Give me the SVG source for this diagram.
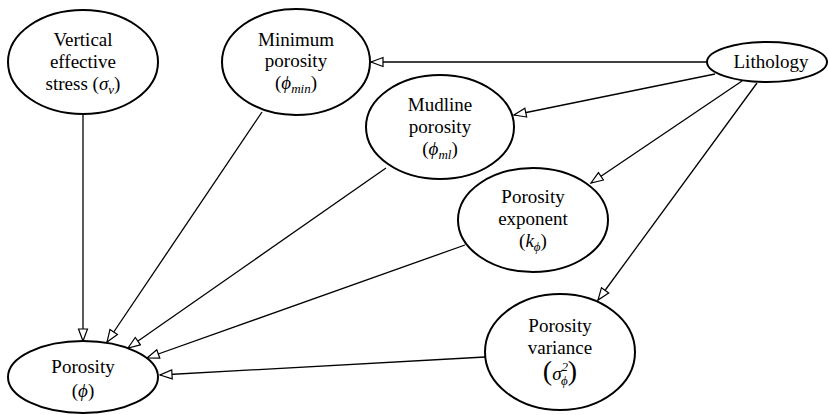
<svg xmlns="http://www.w3.org/2000/svg" width="828" height="415" viewBox="0 0 828 415">
<style>
.node ellipse{fill:#fff;stroke:#000;stroke-width:2}
.node text{font-family:'Liberation Serif','Times New Roman','DejaVu Serif','Noto Serif',serif;font-size:19px;fill:#000;text-anchor:middle}
.m{font-style:italic}
.sub{font-size:13px;font-style:italic}
#edges line{stroke:#000;stroke-width:1.3;fill:none;marker-end:url(#arr)}
</style>
<defs>
<marker id="arr" markerUnits="userSpaceOnUse" markerWidth="15" markerHeight="12" refX="13" refY="5.5" orient="auto">
<path d="M1,1 L13,5.5 L1,10 Z" fill="#fff" stroke="#000" stroke-width="1.2"/>
</marker>
</defs>
<rect width="828" height="415" fill="#fff"/>
<g id="edges">
<line x1="83" y1="115" x2="83" y2="341"/>
<line x1="262" y1="112" x2="107" y2="342"/>
<line x1="386" y1="168" x2="128" y2="348"/>
<line x1="465" y1="245" x2="147" y2="358"/>
<line x1="485" y1="357" x2="160" y2="375"/>
<line x1="707" y1="62" x2="371" y2="62"/>
<line x1="715" y1="74" x2="514" y2="115"/>
<line x1="742" y1="81" x2="591" y2="183"/>
<line x1="757" y1="83" x2="598" y2="300"/>
</g>
<g id="n_stress" class="node">
<ellipse cx="83" cy="62" rx="75" ry="52"/>
<text x="83" y="46" font-family="Liberation Serif, serif">Vertical</text>
<text x="83" y="68" font-family="Liberation Serif, serif">effective</text>
<text x="83" y="90" font-family="Liberation Serif, serif">stress (<tspan class="m">σ</tspan><tspan class="sub" dy="4">v</tspan><tspan dy="-4">)</tspan></text>
</g>
<g id="n_minpor" class="node">
<ellipse cx="296" cy="62" rx="74" ry="53"/>
<text x="296" y="46">Minimum</text>
<text x="296" y="67">porosity</text>
<text x="296" y="89">(<tspan class="m">ϕ</tspan><tspan class="sub" dy="4">min</tspan><tspan dy="-4">)</tspan></text>
</g>
<g id="n_lith" class="node">
<ellipse cx="767" cy="62" rx="60" ry="20"/>
<text x="771" y="68">Lithology</text>
</g>
<g id="n_mudline" class="node">
<ellipse cx="440" cy="127" rx="74" ry="52"/>
<text x="440" y="111">Mudline</text>
<text x="440" y="133">porosity</text>
<text x="440" y="155">(<tspan class="m">ϕ</tspan><tspan class="sub" dy="4">ml</tspan><tspan dy="-4">)</tspan></text>
</g>
<g id="n_exp" class="node">
<ellipse cx="533" cy="220" rx="75" ry="52"/>
<text x="533" y="203">Porosity</text>
<text x="533" y="225">exponent</text>
<text x="533" y="247">(<tspan class="m">k</tspan><tspan class="sub" dy="4">ϕ</tspan><tspan dy="-4">)</tspan></text>
</g>
<g id="n_var" class="node">
<ellipse cx="560" cy="352" rx="75" ry="58"/>
<text x="560" y="332">Porosity</text>
<text x="560" y="354">variance</text>
<text x="560" y="380"><tspan style="font-size:28px">(</tspan><tspan class="m">σ</tspan><tspan class="sub" dy="-9">2</tspan><tspan class="sub" dx="-7" dy="14">ϕ</tspan><tspan dy="-5" style="font-size:28px">)</tspan></text>
</g>
<g id="n_por" class="node">
<ellipse cx="83" cy="377" rx="75" ry="36"/>
<text x="83" y="373">Porosity</text>
<text x="83" y="397">(<tspan class="m">ϕ</tspan>)</text>
</g>
</svg>
